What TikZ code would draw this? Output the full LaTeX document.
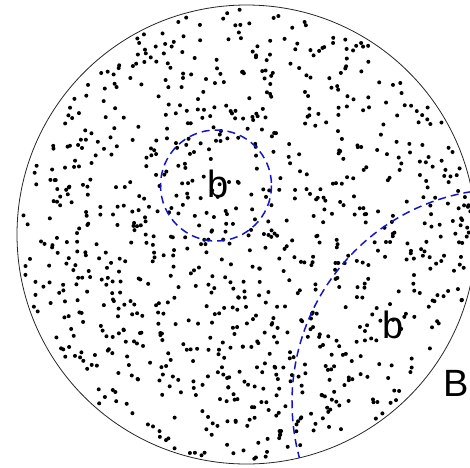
\documentclass[tikz,border=0pt]{standalone}
\usepackage{fontspec}
\setmainfont{Liberation Sans}
\definecolor{DashBlue}{RGB}{20,20,200}
\usetikzlibrary{positioning}

\begin{document}
\begin{tikzpicture}[x=1pt,y=-1pt,
    dot/.style={fill=black},
    ball/.style={DashBlue,line width=1.5pt,dash pattern=on 8pt off 5pt},
    lbl/.style={font=\fontsize{38}{38}\selectfont,inner sep=0pt}]
  \useasboundingbox (0,0) rectangle (470,467);
  \clip (0,0) rectangle (470,467);
  % random points in the disc
  \pgfmathsetseed{11}
  \foreach \i in {1,...,950}{
    \pgfmathsetmacro{\rad}{226*sqrt(rnd)}
    \pgfmathsetmacro{\ang}{360*rnd}
    \fill[dot] (246.5,234.5) ++(\ang:\rad) circle (2);
  }
  \draw[line width=0.8pt,black!85] (246.5,234.5) circle (229.5);
  % the two balls
  \draw[ball] (216,185.5) circle (55.5);
  \begin{scope}
    \clip (246.5,234.5) circle (229.5);
    \draw[ball] (505,402) circle (213);
  \end{scope}
  \node[lbl] (bsmall) at (218,184) {b};
  \node[lbl] (bbig) at (393,325) {b};
  \node[lbl,anchor=east] (B) at (469,383) {B};
\end{tikzpicture}
\end{document}
